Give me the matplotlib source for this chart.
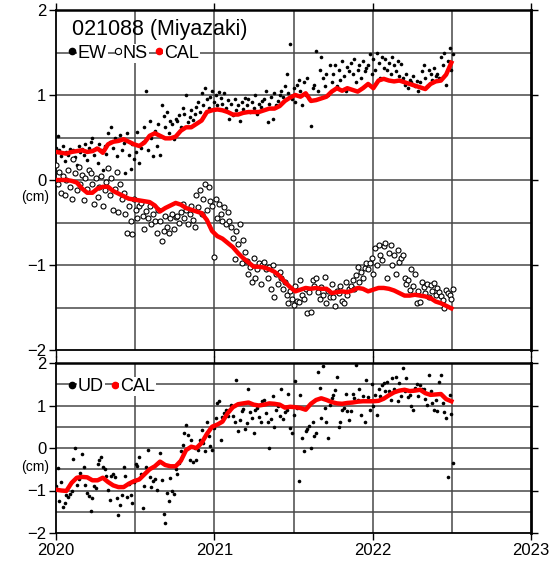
import numpy as np
import pandas as pd
import matplotlib
matplotlib.use('Agg')
import matplotlib.pyplot as plt
from matplotlib.lines import Line2D

plt.rcParams['font.family'] = ['Liberation Sans', 'DejaVu Sans']

station = '021088 (Miyazaki)'
year_ticks = [2020, 2021, 2022, 2023]

# daily solutions, every 4 days from 2020-01-01 (cm)
ew = [0.38, 0.52, 0.35, 0.28, 0.40, 0.22, 0.33, 0.30, 0.36, 0.25,
      0.35, 0.27, 0.18, 0.40, 0.33, 0.36, 0.30, 0.42, 0.24, 0.38,
      0.45, 0.50, 0.30, 0.38, 0.20, 0.42, 0.35, 0.12, 0.40, 0.31,
      0.55, 0.45, 0.62, 0.38, 0.50, 0.28, 0.47, 0.53, 0.35, 0.44,
      0.08, 0.55, 0.30, 0.13, 0.42, 0.25, 0.33, 0.56, 0.20, 0.38,
      0.45, 0.62, 1.05, 0.35, 0.70, 0.50, 0.28, 0.58, 0.40, 0.66,
      0.30, 0.88, 0.75, 0.62, 0.80, 0.55, 0.70, 0.66, 0.48, 0.72,
      0.70, 0.76, 0.62, 0.85, 0.78, 1.00, 0.68, 0.74, 0.82, 0.71,
      0.78, 0.86, 0.92, 0.80, 1.02, 0.88, 1.08, 0.95, 0.85, 0.98,
      1.05, 0.92, 1.00, 0.88, 1.04, 0.96, 0.90, 1.02, 0.85, 0.94,
      0.72, 0.90, 0.76, 0.95, 0.82, 0.88, 0.70, 0.92, 0.84, 0.97,
      0.88, 0.95, 0.80, 0.92, 0.85, 1.00, 0.78, 0.90, 0.86, 0.93,
      0.95, 1.05, 0.68, 0.90, 0.98, 0.72, 1.02, 0.88, 0.93, 1.00,
      1.05, 0.98, 1.10, 1.25, 1.02, 1.60, 0.95, 1.08, 0.92, 1.12,
      1.18, 1.05, 0.88, 1.15, 1.00, 1.20, 0.95, 0.63, 1.08, 1.12,
      1.52, 1.05, 1.30, 1.45, 1.20, 1.10, 1.25, 1.00, 1.35, 1.15,
      1.25, 1.35, 1.10, 1.30, 1.18, 1.40, 1.22, 1.05, 1.33, 1.28,
      1.38, 1.25, 1.42, 1.15, 1.30, 1.35, 1.20, 1.40, 1.28, 1.32,
      1.35, 1.48, 1.25, 1.42, 1.30, 1.50, 1.38, 1.20, 1.45, 1.32,
      1.42, 1.30, 1.38, 1.25, 1.45, 1.35, 1.28, 1.40, 1.22, 1.36,
      1.20, 1.12, 1.25, 1.08, 1.18, 1.15, 1.22, 1.10, 1.16, 1.05,
      1.15, 1.28, 1.35, 1.20, 1.10, 1.30, 1.25, 1.18, 1.32, 1.22,
      1.25, 1.20, 1.45, 1.35, 1.50, 1.12, 1.40, 1.55, 1.30, 1.48]

ns = [0.18, -0.05, 0.10, -0.15, 0.05, -0.18, 0.00, 0.12, -0.08, -0.22,
      0.25, 0.08, -0.12, 0.15, -0.05, 0.06, -0.24, 0.02, -0.10, 0.12,
      0.08, -0.05, -0.28, 0.02, -0.20, -0.08, 0.05, -0.30, -0.12, -0.02,
      0.14, -0.18, 0.02, -0.35, -0.10, 0.10, -0.38, -0.05, -0.22, -0.15,
      -0.40, -0.62, -0.30, -0.48, -0.63, -0.22, -0.35, -0.45, -0.30, -0.27,
      -0.42, -0.58, -0.37, -0.45, -0.30, -0.52, -0.40, -0.48, -0.62, -0.35,
      -0.48, -0.72, -0.60, -0.42, -0.55, -0.62, -0.45, -0.40, -0.58, -0.44,
      -0.42, -0.50, -0.38, -0.28, -0.45, -0.35, -0.52, -0.40, -0.30, -0.47,
      -0.55, -0.18, -0.32, -0.12, -0.40, -0.22, -0.05, -0.35, -0.08, -0.25,
      -0.30, -0.90, -0.22, -0.45, -0.28, -0.40, -0.48, -0.32, -0.52, -0.38,
      -0.48, -0.55, -0.68, -0.93, -0.60, -0.75, -0.52, -0.98, -0.70, -0.85,
      -0.95, -1.10, -1.02, -1.20, -0.92, -1.15, -1.05, -0.98, -1.22, -1.00,
      -0.96, -1.05, -1.15, -1.02, -1.28, -1.00, -1.38, -1.10, -1.22, -1.08,
      -1.15, -1.28, -1.20, -1.35, -1.45, -1.30, -1.40, -1.47, -1.25, -1.42,
      -1.43, -1.18, -1.35, -1.40, -1.28, -1.57, -1.32, -1.55, -1.18, -1.25,
      -1.15, -1.32, -1.40, -1.26, -1.35, -1.14, -1.45, -1.30, -1.38, -1.22,
      -1.38, -1.48, -1.30, -1.33, -1.25, -1.42, -1.45, -1.20, -1.35, -1.28,
      -1.25, -1.18, -1.28, -1.12, -1.02, -1.20, -1.08, -1.15, -1.04, -0.98,
      -1.05, -0.98, -0.92, -1.10, -0.80, -1.00, -0.76, -0.88, -0.94, -0.78,
      -0.74, -1.15, -0.86, -0.76, -1.00, -0.88, -1.10, -0.82, -0.96, -0.92,
      -0.88, -1.15, -1.22, -1.18, -1.29, -1.05, -1.25, -1.10, -1.45, -1.30,
      -1.44, -1.20, -1.26, -1.33, -1.22, -1.38, -1.24, -1.30, -1.21, -1.35,
      -1.27, -1.32, -1.37, -1.41, -1.50, -1.29, -1.33, -1.35, -1.40, -1.28]

ud = [-0.90, -0.48, -1.25, -0.80, -1.38, -1.30, -1.10, -1.15, -1.08, -1.02,
      -0.25, 0.00, -0.86, -0.72, -0.58, -0.15, -0.45, -0.88, -1.05, -1.12,
      -1.48, -1.18, -0.90, -0.95, -0.38, -0.28, -0.22, -0.45, -0.50, -0.65,
      -0.98, -1.22, -0.65, -0.62, -0.68, -1.18, -1.58, -1.35, -1.10, -0.45,
      -0.65, -1.15, -0.85, -1.10, -1.30, -0.80, -0.38, -0.42, -0.20, -0.62,
      -1.42, -0.90, -0.45, -0.05, -0.68, -0.92, -0.78, -0.72, -0.98, -0.35,
      -0.12, -0.75, -1.55, -1.76, -1.05, -1.25, -0.70, -1.02, -1.08, -0.50,
      -0.62, -0.35, -0.08, 0.08, 0.35, 0.55, 0.30, -0.28, 0.20, -0.32,
      0.00, -0.28, -0.05, 0.20, 0.42, 0.12, -0.08, 0.62, 0.28, 0.05,
      -0.05, 0.48, 0.70, 1.05, 1.10, 0.20, 0.72, 0.82, 0.90, 0.75,
      0.88, 1.02, 0.75, 0.62, 1.60, 0.40, 0.65, 0.86, 0.92, 0.45,
      0.58, 1.38, 0.85, 0.70, 0.35, 0.90, 0.95, 0.72, 0.62, 1.10,
      1.14, 0.82, 0.62, 0.00, 0.68, 1.22, 0.50, 0.90, 1.00, 0.75,
      1.40, 0.68, 0.85, 0.90, 1.28, 0.48, 0.35, 0.78, 1.57, 0.95,
      -0.78, 1.25, 0.24, -0.08, 0.40, 0.45, 0.52, 0.00, 0.62, 0.28,
      0.35, 1.80, 1.42, 0.70, 1.92, 0.94, 0.62, 0.24, 1.02, 1.18,
      1.25, 1.37, 1.68, 0.50, 0.62, 0.90, 0.95, 1.28, 0.88, 0.65,
      0.86, 1.28, 1.18, 1.96, 1.14, 1.38, 0.78, 1.22, 0.62, 1.60,
      1.20, 0.90, 1.50, 0.98, 1.25, 0.78, 1.38, 1.22, 1.48, 1.53,
      1.33, 1.55, 1.35, 1.14, 1.65, 1.40, 1.68, 1.10, 1.53, 1.22,
      1.88, 1.35, 1.65, 1.20, 1.25, 0.98, 0.90, 1.42, 1.50, 1.22,
      1.48, 1.38, 1.40, 1.15, 1.02, 1.72, 1.35, 1.05, 0.90, 1.14,
      0.86, 1.55, 1.72, 1.05, 0.85, 0.70, -0.68, 1.25, 0.80, -0.35]

# calculated (model) curves, every 12 days from 2020-01-01 (cm)
ew_cal = [0.33, 0.32, 0.31, 0.33, 0.34, 0.35, 0.33, 0.34, 0.37, 0.32,
          0.42, 0.45, 0.46, 0.48, 0.45, 0.42, 0.40, 0.44, 0.52, 0.55,
          0.52, 0.49, 0.49, 0.51, 0.58, 0.62, 0.62, 0.66, 0.70, 0.80,
          0.82, 0.83, 0.82, 0.80, 0.77, 0.77, 0.79, 0.80, 0.80, 0.80,
          0.82, 0.84, 0.84, 0.87, 0.93, 0.97, 1.00, 0.98, 1.02, 0.93,
          0.94, 0.96, 0.98, 1.04, 1.08, 1.05, 1.08, 1.06, 1.04, 1.08,
          1.13, 1.08, 1.17, 1.19, 1.17, 1.16, 1.17, 1.15, 1.13, 1.11,
          1.09, 1.07, 1.13, 1.16, 1.17, 1.24, 1.38]

ns_cal = [0.00, 0.00, 0.00, -0.01, -0.03, -0.10, -0.15, -0.15, -0.10, -0.08,
          -0.08, -0.13, -0.16, -0.19, -0.22, -0.23, -0.24, -0.25, -0.26, -0.30,
          -0.37, -0.33, -0.30, -0.27, -0.29, -0.33, -0.35, -0.37, -0.39, -0.47,
          -0.60, -0.66, -0.69, -0.74, -0.79, -0.86, -0.92, -0.97, -1.02, -1.02,
          -1.03, -1.05, -1.08, -1.13, -1.20, -1.26, -1.31, -1.29, -1.27, -1.28,
          -1.27, -1.28, -1.28, -1.33, -1.32, -1.31, -1.32, -1.30, -1.27, -1.28,
          -1.31, -1.29, -1.27, -1.27, -1.28, -1.30, -1.33, -1.36, -1.36, -1.35,
          -1.36, -1.37, -1.39, -1.43, -1.45, -1.48, -1.51]

ud_cal = [-0.98, -1.00, -1.01, -0.82, -0.70, -0.68, -0.69, -0.76, -0.76, -0.70,
          -0.80, -0.88, -0.92, -0.92, -0.84, -0.78, -0.74, -0.62, -0.50, -0.43,
          -0.32, -0.40, -0.43, -0.43, -0.30, -0.05, 0.03, 0.00, 0.12, 0.33,
          0.50, 0.55, 0.62, 0.82, 0.96, 1.03, 1.05, 1.07, 1.02, 1.00,
          1.02, 1.05, 1.04, 1.02, 0.95, 0.97, 0.96, 0.94, 0.90, 1.04,
          1.13, 1.17, 1.13, 1.08, 1.05, 1.04, 1.06, 1.07, 1.09, 1.10,
          1.10, 1.10, 1.11, 1.16, 1.24, 1.31, 1.35, 1.37, 1.34, 1.35,
          1.37, 1.29, 1.25, 1.26, 1.27, 1.15, 1.10]


def dec_year(n, step):
    d = pd.date_range('2020-01-01', periods=n, freq=f'{step}D')
    return 2020 + (d - pd.Timestamp('2020-01-01')).days.values / 365.25


t_obs = dec_year(len(ew), 4)
t_cal = dec_year(len(ew_cal), 12)

fig = plt.figure(figsize=(5.59, 5.63), dpi=100)
ax1 = fig.add_axes([56 / 559, 1 - 350 / 563, 475 / 559, 340 / 563])
ax2 = fig.add_axes([56 / 559, 1 - 533 / 563, 475 / 559, 170 / 563])

grid_kw = dict(color='#484848', lw=1.1, zorder=0)
for ax in (ax1, ax2):
    ax.set_xlim(2020, 2023)
    ax.set_ylim(-2, 2)
    for x in np.arange(2020.5, 2023, 0.5):
        ax.axvline(x, **grid_kw)
    for y in np.arange(-1.5, 2, 0.5):
        ax.axhline(y, **grid_kw)
    ax.set_xticks(year_ticks)
    ax.set_yticks([-2, -1, 0, 1, 2])
    ax.tick_params(direction='out', length=5, width=1, labelsize=12,
                   top=True, right=True, pad=2)
    for s in ax.spines.values():
        s.set_linewidth(1.3)
    ax.spines['right'].set_linewidth(2.0)
    ax.spines['top'].set_linewidth(1.8)

ax1.tick_params(labelbottom=False)
ax2.set_xticklabels([str(y) for y in year_ticks])

# top panel: horizontal components
ax1.plot(t_obs, ew, 'o', ms=2.6, color='black', mew=0, zorder=3)
ax1.plot(t_obs, ns, 'o', ms=3.6, mfc='white', mec='black', mew=0.8, zorder=3)
ax1.plot(t_cal, ew_cal, '-', color='red', lw=3.2, zorder=4)
ax1.plot(t_cal, ns_cal, '-', color='red', lw=3.2, zorder=4)

ax1.text(0.034, 0.974, station, transform=ax1.transAxes, fontsize=15.5,
         va='top', ha='left')
h1 = [Line2D([], [], marker='o', ls='none', color='black', ms=4.5),
      Line2D([], [], marker='o', ls='none', mfc='white', mec='black', ms=4.5, mew=0.8),
      Line2D([], [], marker='o', ls='none', color='red', ms=4.5)]
leg1 = ax1.legend(h1, ['EW', 'NS', 'CAL'], loc='upper left', ncol=3,
                  frameon=False, fontsize=13, handlelength=0.4,
                  handletextpad=0.1, columnspacing=0.4,
                  bbox_to_anchor=(0.0, 0.935), borderpad=0.2)
for t in leg1.get_texts():
    t.set_bbox(dict(facecolor='white', edgecolor='none', pad=0.6))

# bottom panel: vertical component
ax2.plot(t_obs, ud, 'o', ms=2.6, color='black', mew=0, zorder=3)
ax2.plot(t_cal, ud_cal, '-', color='red', lw=3.2, zorder=4)
h2 = [Line2D([], [], marker='o', ls='none', color='black', ms=4.5),
      Line2D([], [], marker='o', ls='none', color='red', ms=4.5)]
leg2 = ax2.legend(h2, ['UD', 'CAL'], loc='upper left', ncol=2,
                  frameon=False, fontsize=13, handlelength=0.4,
                  handletextpad=0.1, columnspacing=0.4,
                  bbox_to_anchor=(0.0, 0.985), borderpad=0.2)
for t in leg2.get_texts():
    t.set_bbox(dict(facecolor='white', edgecolor='none', pad=0.6))

for ax, yv in ((ax1, -0.2), (ax2, -0.45)):
    ax.text(-0.044, yv, '(cm)', transform=ax.get_yaxis_transform(),
            fontsize=10, ha='center', va='center')

fig.savefig('out.png', dpi=100)
